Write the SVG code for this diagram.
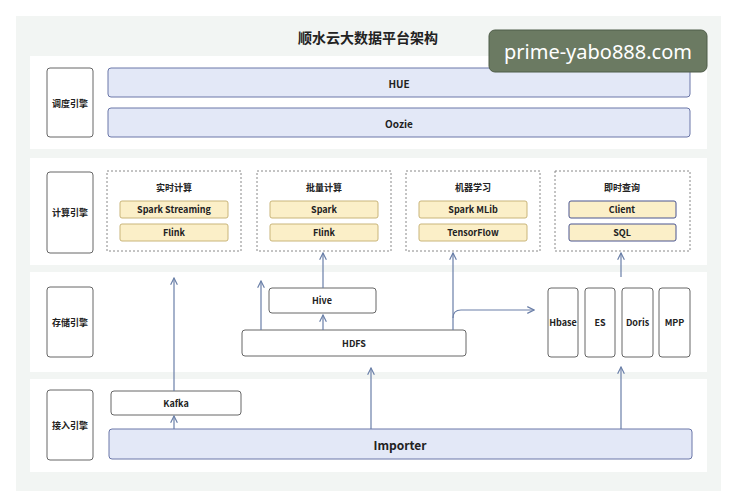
<svg xmlns="http://www.w3.org/2000/svg" width="737" height="500" viewBox="0 0 737 500">
<defs>
<marker id="ah" viewBox="0 0 10 10" refX="9" refY="5" markerWidth="7" markerHeight="7" orient="auto-start-reverse"><path d="M1,1 L9,5 L1,9" fill="none" stroke="#6a7fa8" stroke-width="1.4"/></marker>
<style>
text{font-family:"Noto Sans CJK SC","Liberation Sans",sans-serif;font-weight:bold;text-anchor:middle;dominant-baseline:central;fill:#222}
.panel{fill:#fff}
.lab{fill:#fff;stroke:#666;stroke-width:1}
.blue{fill:#e3e8f7;stroke:#6a76a8;stroke-width:1}
.box{fill:#fff;stroke:#666;stroke-width:1}
.grp{fill:none;stroke:#888;stroke-width:1;stroke-dasharray:2,2}
.it{fill:#fbefc8;stroke:#c9b57a;stroke-width:1}
.itb{fill:#fbefc8;stroke:#4a5590;stroke-width:1}
.s{font-size:9px}
.m{font-size:10px}
.c{fill:none;stroke:#6a7fa8;stroke-width:1.2;marker-end:url(#ah)}
</style>
</defs>
<rect width="737" height="500" fill="#fff"/>
<rect x="16" y="16" width="705" height="475" fill="#f2f5f3"/>
<text x="368" y="37" font-size="14">顺水云大数据平台架构</text>
<rect x="30" y="56" width="677" height="93" class="panel"/>
<rect x="30" y="158" width="677" height="107" class="panel"/>
<rect x="30" y="272" width="677" height="100" class="panel"/>
<rect x="30" y="379" width="677" height="93" class="panel"/>
<g id="sched"><rect x="47" y="68" width="46" height="69" rx="3" class="lab"/><text x="70" y="103" class="s">调度引擎</text></g>
<g id="hue"><rect x="108" y="68" width="582" height="29" rx="3" class="blue"/><text x="399" y="83" class="m">HUE</text></g>
<g id="oozie"><rect x="108" y="108" width="582" height="29" rx="3" class="blue"/><text x="399" y="123" class="m">Oozie</text></g>
<g id="compute"><rect x="47" y="172" width="46" height="81" rx="3" class="lab"/><text x="70" y="212" class="s">计算引擎</text></g>
<g id="g1"><rect x="107" y="171" width="134" height="80" class="grp"/><text x="174" y="187" class="s">实时计算</text>
<rect x="120" y="201" width="108" height="17" rx="2" class="it"/><text x="174" y="209.5" class="s">Spark Streaming</text>
<rect x="120" y="224" width="108" height="17" rx="2" class="it"/><text x="174" y="232.5" class="s">Flink</text></g>
<g id="g2"><rect x="257" y="171" width="134" height="80" class="grp"/><text x="324" y="187" class="s">批量计算</text>
<rect x="270" y="201" width="108" height="17" rx="2" class="it"/><text x="324" y="209.5" class="s">Spark</text>
<rect x="270" y="224" width="108" height="17" rx="2" class="it"/><text x="324" y="232.5" class="s">Flink</text></g>
<g id="g3"><rect x="406" y="171" width="134" height="80" class="grp"/><text x="473" y="187" class="s">机器学习</text>
<rect x="419" y="201" width="108" height="17" rx="2" class="it"/><text x="473" y="209.5" class="s">Spark MLib</text>
<rect x="419" y="224" width="108" height="17" rx="2" class="it"/><text x="473" y="232.5" class="s">TensorFlow</text></g>
<g id="g4"><rect x="555" y="171" width="135" height="80" class="grp"/><text x="622" y="187" class="s">即时查询</text>
<rect x="569" y="201" width="107" height="17" rx="2" class="itb"/><text x="622" y="209.5" class="s">Client</text>
<rect x="569" y="224" width="107" height="17" rx="2" class="itb"/><text x="622" y="232.5" class="s">SQL</text></g>
<g id="storage"><rect x="47" y="287" width="46" height="70" rx="3" class="lab"/><text x="70" y="322" class="s">存储引擎</text></g>
<g id="hive"><rect x="269" y="288" width="107" height="25" rx="3" class="box"/><text x="322" y="300.5" class="s">Hive</text></g>
<g id="hdfs"><rect x="242" y="330" width="224" height="26" rx="3" class="box"/><text x="354" y="343" class="s">HDFS</text></g>
<g id="hbase"><rect x="548" y="288" width="30" height="69" rx="3" class="box"/><text x="563" y="322" class="s">Hbase</text></g>
<g id="es"><rect x="585" y="288" width="30" height="69" rx="3" class="box"/><text x="600" y="322" class="s">ES</text></g>
<g id="doris"><rect x="622" y="288" width="31" height="69" rx="3" class="box"/><text x="637.5" y="322" class="s">Doris</text></g>
<g id="mpp"><rect x="659" y="288" width="31" height="69" rx="3" class="box"/><text x="674.5" y="322" class="s">MPP</text></g>
<g id="access"><rect x="47" y="390" width="46" height="70" rx="3" class="lab"/><text x="70" y="425" class="s">接入引擎</text></g>
<g id="kafka"><rect x="111" y="391" width="130" height="24" rx="3" class="box"/><text x="176" y="403" class="s">Kafka</text></g>
<g id="importer"><rect x="109" y="429" width="583" height="30" rx="3" class="blue"/><text x="400" y="444" font-size="12">Importer</text></g>
<g id="connectors">
<path d="M174,391 V278" class="c"/>
<path d="M174,429 V416" class="c"/>
<path d="M323,288 V253" class="c"/>
<path d="M323,330 V315" class="c"/>
<path d="M261,330 V281" class="c"/>
<path d="M453,330 V253" class="c"/>
<path d="M453,318 Q453,310 461,310 H534" class="c"/>
<path d="M371,429 V368" class="c"/>
<path d="M621,429 V367" class="c"/>
<path d="M621,277 V253" class="c"/>
</g>
<g id="watermark"><rect x="489" y="30" width="218" height="42" rx="6" fill="#6b7a62" stroke="#4f5c48"/><text x="598" y="51" font-size="20" font-weight="normal" fill="#fff" style="fill:#fff;font-weight:normal;font-family:'Noto Sans','Liberation Sans',sans-serif">prime-yabo888.com</text></g>
</svg>
